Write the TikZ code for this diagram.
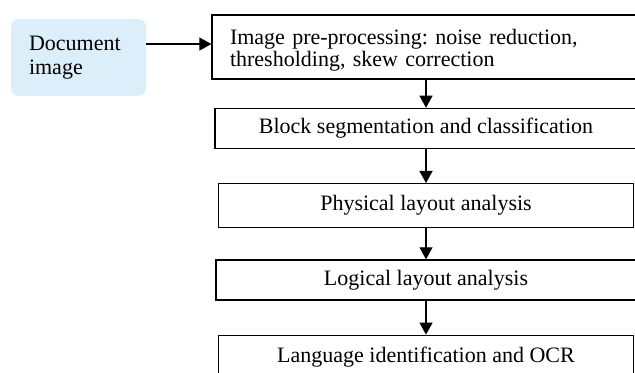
\documentclass[tikz,border=0pt]{standalone}
\usepackage{fontspec}
\setmainfont{Liberation Serif}
\usetikzlibrary{arrows.meta}
\definecolor{docblue}{RGB}{220,238,249}
\frenchspacing

\begin{document}
\begin{tikzpicture}[x=1pt,y=-1pt,
    font=\fontsize{11}{12}\selectfont,
    >={Triangle[length=6pt,width=6.5pt]}]
    \useasboundingbox (0,0) rectangle (317.5,186.5);
    \clip (0,0) rectangle (317.5,186.5);
    \node[fill=docblue, rounded corners=4pt, minimum width=67.5pt, minimum height=38.5pt,
        text width=49.5pt, align=left, inner sep=0pt] (doc) at (39.25,28.75) {Document\\image};
    \matrix (flow) [anchor=north, inner sep=0pt,
        nodes={draw, line width=0.65pt, inner sep=0pt, align=center, minimum height=20pt},
        row sep=14pt] at (213,7) {
    \node[minimum height=32pt, text width=196pt, align=left, inner xsep=9pt,
        font=\fontsize{11}{11}\selectfont] (pre)
        {\rule{0pt}{11pt}Image pre-processing: noise reduction,\\
         thresholding, skew correction\rule[-3pt]{0pt}{3pt}}; \\
    \node[minimum width=211pt] (block) {Block segmentation and classification}; \\[3pt]
    \node[minimum width=207.5pt, minimum height=22pt] (phys) {Physical layout analysis}; \\[1.5pt]
    \node[minimum width=210pt] (logic) {Logical layout analysis}; \\[3pt]
    \node[minimum width=207.5pt, minimum height=22pt] (ocr) {Language identification and OCR}; \\
    };
    \coordinate (pin) at ([yshift=1.5pt]pre.west);
    \draw[->, line width=0.65pt] (doc.east |- pin) -- (pin);
    \foreach \a/\b in {pre/block, block/phys, phys/logic, logic/ocr}
        \draw[->, line width=0.65pt] (\a.south) -- (\a.south |- \b.north);
\end{tikzpicture}
\end{document}
